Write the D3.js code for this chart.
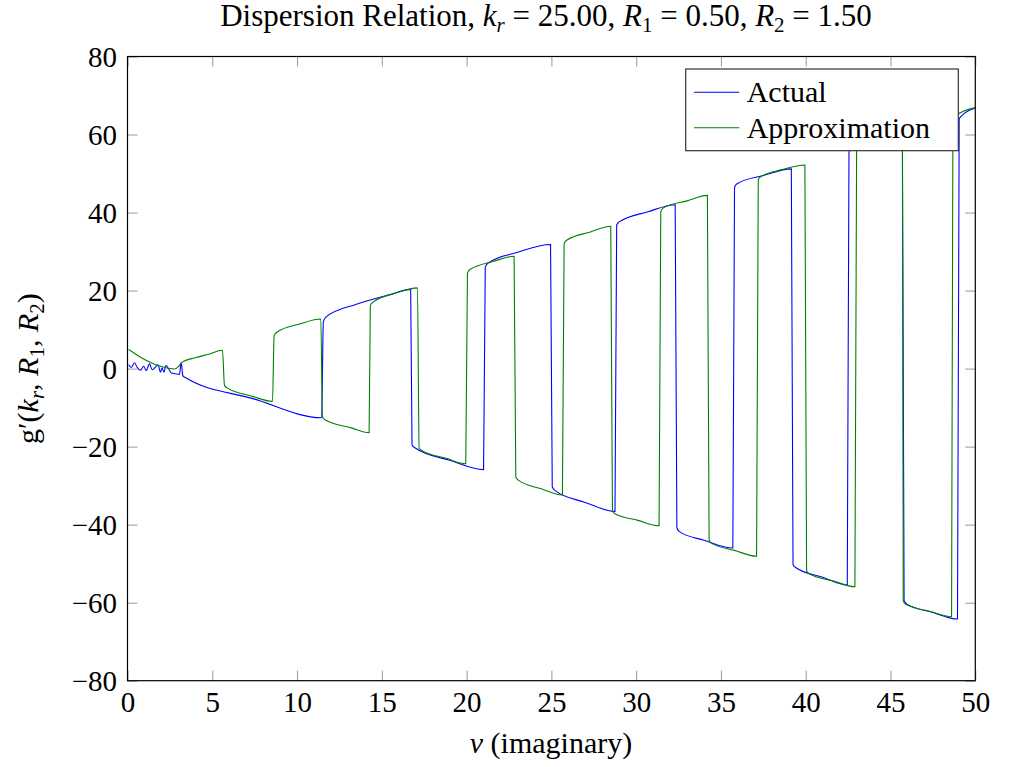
<!DOCTYPE html>
<meta charset="utf-8">
<head>
	<style>
		body { margin: 0; background: #fff; }
		text { font-family: "Liberation Serif", "DejaVu Serif", serif; fill: #000; }
	</style>
	<script src="https://cdn.jsdelivr.net/npm/d3@7"></script>
</head>
<body>
<script>

	// values, [nu, g']
	var actual = [
		[0.07, 1.0], [0.22, 0.3], [0.42, 1.5], [0.56, 0.4], [0.76, -0.4], [0.96, 0.6], [1.1, -0.5],
		[1.3, 1.2], [1.45, -0.3], [1.65, 0.4], [1.8, 1.0], [1.94, -0.9], [2.04, 0.2], [2.14, -0.9],
		[2.27, 0.8], [2.43, -0.1], [2.58, -1.1], [2.82, -1.3], [3.06, -1.5], [3.17, 1.5], [3.26, -1.8],
		[3.41, -2.3], [7.4, -7.7], [11.45, -12.6],
		[11.55, 12.0], [11.7, 13.2], [13.5, 16.5], [15.5, 19.0], [16.7, 20.3],
		[16.78, -19.5], [16.95, -20.3], [19.0, -23.5], [21.0, -25.9],
		[21.1, 26.0], [21.25, 27.0], [23.0, 29.8], [24.95, 31.8],
		[25.05, -30.3], [25.2, -31.2], [27.0, -34.3], [28.75, -36.6],
		[28.85, 36.8], [29.0, 37.6], [30.7, 40.2], [32.3, 42.0],
		[32.4, -40.8], [32.55, -41.8], [34.0, -44.0], [35.7, -46.0],
		[35.8, 46.5], [35.95, 47.4], [37.5, 49.5], [39.15, 51.2],
		[39.25, -50.2], [39.4, -51.0], [41.0, -53.5], [42.45, -55.5],
		[42.55, 55.5], [42.7, 56.5], [44.3, 58.7], [45.7, 60.2],
		[45.8, -59.5], [45.95, -60.3], [47.5, -62.5], [48.95, -64.2],
		[49.05, 64.0], [49.2, 64.8], [50.0, 66.8]
	];

	var approx = [
		[0.07, 4.9], [0.9, 2.6], [1.6, 1.1], [2.4, 0.1], [2.8, -0.1], [3.0, 0.5], [3.2, 1.6],
		[3.98, 2.8], [4.8, 3.7], [5.6, 4.7],
		[5.72, -4.3], [5.9, -5.0], [7.3, -7.0], [8.55, -8.4],
		[8.65, 8.5], [8.8, 9.3], [10.2, 11.5], [11.4, 12.7],
		[11.5, -12.4], [11.65, -13.1], [13.2, -15.2], [14.25, -16.4],
		[14.32, 16.2], [14.5, 17.1], [15.8, 19.3], [17.1, 20.7],
		[17.2, -20.4], [17.35, -21.0], [18.8, -23.0], [19.95, -24.4],
		[20.05, 24.5], [20.2, 25.4], [21.6, 27.5], [22.8, 28.8],
		[22.9, -27.8], [23.05, -28.6], [24.4, -30.8], [25.65, -32.4],
		[25.75, 32.0], [25.9, 32.9], [27.3, 35.0], [28.5, 36.5],
		[28.6, -36.4], [28.75, -37.2], [30.1, -38.9], [31.35, -40.3],
		[31.45, 40.2], [31.6, 41.2], [33.0, 43.0], [34.2, 44.4],
		[34.3, -43.8], [34.45, -44.8], [35.8, -46.6], [37.1, -48.1],
		[37.2, 48.4], [37.35, 49.2], [38.6, 51.0], [39.95, 52.2],
		[40.05, -51.8], [40.2, -52.6], [41.6, -54.4], [42.9, -55.9],
		[43.0, 56.0], [43.15, 56.8], [44.5, 58.6], [45.7, 60.0],
		[45.75, -59.6], [45.9, -60.4], [47.3, -62.2], [48.6, -63.6],
		[48.68, 63.8], [48.85, 64.8], [50.0, 66.9]
	];

	var xTicks = [0, 5, 10, 15, 20, 25, 30, 35, 40, 45, 50],
		yTicks = [-80, -60, -40, -20, 0, 20, 40, 60, 80];

	var series = [
		{name: "Actual", data: actual, color: "#0000ff"},
		{name: "Approximation", data: approx, color: "#008000"}
	];

	var width = 1013, height = 767,
		pL = 127.5, pR = 975.3, pT = 56.5, pB = 680.7;

	var x = d3.scaleLinear().domain([0, 50]).range([pL, pR]),
		y = d3.scaleLinear().domain([-80, 80]).range([pB, pT]);

	var svg = d3.select("body").append("svg")
		.attr("width", width)
		.attr("height", height);

	var fmt = function(d) { return d < 0 ? "\u2212" + Math.abs(d) : "" + d; };

	// inward gray ticks on all four sides
	var tl = 10;
	var tickColor = "#999";
	svg.append("g").attr("transform", "translate(0," + pB + ")")
		.call(d3.axisBottom(x).tickValues(xTicks).tickSizeInner(-tl).tickSizeOuter(0).tickFormat(fmt))
		.call(function(g) {
			g.select(".domain").remove();
			g.selectAll("line").attr("stroke", tickColor);
			g.selectAll("text").attr("font-size", 29).attr("dy", 0).attr("y", 31);
		});
	svg.append("g").attr("transform", "translate(0," + pT + ")")
		.call(d3.axisTop(x).tickValues(xTicks).tickSizeInner(-tl).tickSizeOuter(0).tickFormat(""))
		.call(function(g) {
			g.select(".domain").remove();
			g.selectAll("line").attr("stroke", tickColor);
		});
	svg.append("g").attr("transform", "translate(" + pL + ",0)")
		.call(d3.axisLeft(y).tickValues(yTicks).tickSizeInner(-tl).tickSizeOuter(0).tickFormat(fmt))
		.call(function(g) {
			g.select(".domain").remove();
			g.selectAll("line").attr("stroke", tickColor);
			g.selectAll("text").attr("font-size", 29).attr("x", -10.5).attr("dy", "0.33em");
		});
	svg.append("g").attr("transform", "translate(" + pR + ",0)")
		.call(d3.axisRight(y).tickValues(yTicks).tickSizeInner(-tl).tickSizeOuter(0).tickFormat(""))
		.call(function(g) {
			g.select(".domain").remove();
			g.selectAll("line").attr("stroke", tickColor);
		});
	svg.selectAll(".tick text").attr("font-family", "Liberation Serif").attr("fill", "#000");

	svg.append("clipPath").attr("id", "plotclip")
		.append("rect")
		.attr("x", pL).attr("y", pT)
		.attr("width", pR - pL).attr("height", pB - pT);

	var line = d3.line()
		.x(function(d) { return x(d[0]); })
		.y(function(d) { return y(d[1]); })
		.curve(d3.curveMonotoneX);

	svg.append("g").attr("clip-path", "url(#plotclip)")
		.selectAll("path")
		.data(series)
	  .enter().append("path")
		.attr("d", function(d) { return line(d.data); })
		.attr("fill", "none")
		.attr("stroke", function(d) { return d.color; })
		.attr("stroke-width", 1.1);

	// frame
	svg.append("rect")
		.attr("x", pL).attr("y", pT)
		.attr("width", pR - pL).attr("height", pB - pT)
		.attr("fill", "none")
		.attr("stroke", "#000")
		.attr("stroke-width", 1.2);

	// legend
	var lg = svg.append("g").attr("transform", "translate(685.7,69)");
	lg.append("rect")
		.attr("width", 272.6).attr("height", 81.7)
		.attr("fill", "#fff")
		.attr("stroke", "#333")
		.attr("stroke-width", 1.2);
	var item = lg.selectAll(".item")
		.data(series)
	  .enter().append("g")
		.attr("transform", function(d, i) { return "translate(0," + (23.3 + i * 35.4) + ")"; });
	item.append("line")
		.attr("x1", 8.3).attr("x2", 53.6)
		.attr("stroke", function(d) { return d.color; })
		.attr("stroke-width", 1.1);
	item.append("text")
		.attr("x", 61)
		.attr("dy", "0.33em")
		.attr("font-size", 30)
		.text(function(d) { return d.name; });

	function piece(t, s, opts) {
		opts = opts || {};
		var ts = t.append("tspan").text(s);
		if (opts.italic) ts.attr("font-style", "italic");
		if (opts.sub) ts.attr("font-size", opts.fs || 21).attr("dy", 6);
		if (opts.up) ts.attr("dy", -6);
		return ts;
	}

	// title
	var title = svg.append("text")
		.attr("x", 546).attr("y", 26)
		.attr("text-anchor", "middle")
		.attr("font-size", 31);
	piece(title, "Dispersion Relation, ");
	piece(title, "k", {italic: true});
	piece(title, "r", {italic: true, sub: true});
	piece(title, " = 25.00, ", {up: true});
	piece(title, "R", {italic: true});
	piece(title, "1", {sub: true});
	piece(title, " = 0.50, ", {up: true});
	piece(title, "R", {italic: true});
	piece(title, "2", {sub: true});
	piece(title, " = 1.50", {up: true});

	// x label
	var xl = svg.append("text")
		.attr("x", 551).attr("y", 753)
		.attr("text-anchor", "middle")
		.attr("font-size", 30);
	piece(xl, "\u03bd", {italic: true});
	piece(xl, " (imaginary)");

	// y label
	var yl = svg.append("text")
		.attr("transform", "translate(38," + ((pT + pB) / 2) + ")rotate(-90)")
		.attr("text-anchor", "middle")
		.attr("font-size", 30);
	piece(yl, "g\u2032(");
	piece(yl, "k", {italic: true});
	piece(yl, "r", {italic: true, sub: true});
	piece(yl, ", ", {up: true});
	piece(yl, "R", {italic: true});
	piece(yl, "1", {sub: true});
	piece(yl, ", ", {up: true});
	piece(yl, "R", {italic: true});
	piece(yl, "2", {sub: true});
	piece(yl, ")", {up: true});

</script>
</body>
